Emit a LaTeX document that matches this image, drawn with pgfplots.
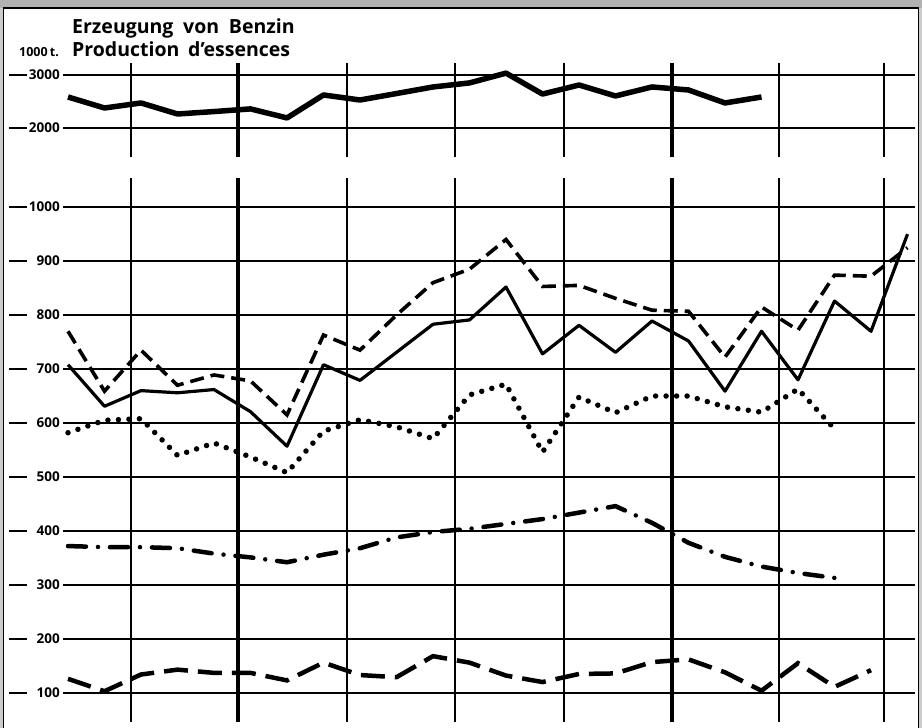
\documentclass[border=0pt]{standalone}
\usepackage{pgfplots}
\pgfplotsset{compat=1.18}
\usepackage{pgfplotstable}
\usepackage{fontspec}
\setmainfont{Open Sans}

\pgfplotstableread{
k v
0 2585
1 2377
2 2472
3 2264
4 2310
5 2360
6 2190
7 2623
8 2528
9 2650
10 2774
11 2850
12 3035
13 2640
14 2811
15 2604
16 2774
17 2717
18 2472
19 2585
}\toptable

\pgfplotstableread{
k v
0 708
1 631
2 660
3 656
4 662
5 621
6 557
7 708
8 679
9 731
10 783
11 791
12 852
13 728
14 781
15 731
16 789
17 752
18 659
19 770
20 680
21 826
22 770
23 950
}\solidtable

\pgfplotstableread{
k v
0 770
1 659
2 735
3 670
4 689
5 678
6 615
7 763
8 735
9 800
10 860
11 885
12 940
13 853
14 855
15 831
16 809
17 807
18 722
19 815
20 772
21 874
22 872
23 925
}\dashedtable

\pgfplotstableread{
k v
0 582
1 605
2 608
3 540
4 563
5 537
6 508
7 585
8 606
9 593
10 571
11 652
12 672
13 546
14 648
15 619
16 650
17 650
18 630
19 620
20 663
21 589
}\dottedtable

\pgfplotstableread{
k v
0 372
1 370
2 370
3 368
4 358
5 351
6 342
7 356
8 368
9 388
10 398
11 404
12 413
13 422
14 434
15 446
16 415
17 378
18 352
19 334
20 322
21 313
}\dashdottable

\pgfplotstableread{
k v
0 126
1 103
2 134
3 143
4 137
5 137
6 123
7 156
8 133
9 129
10 168
11 156
12 132
13 120
14 135
15 136
16 157
17 162
18 138
19 104
20 155
21 111
22 142
}\longdashtable

\pgfplotsset{
  benzin/.style={
    scale only axis,
    anchor=south west,
    width=852pt,
    xmin=-0.137, xmax=23.205,
    axis line style={draw=none},
    xtick={1.726,7.644,10.603,13.589,19.479,22.356},
    xticklabels={},
    extra x ticks={4.658,16.548},
    extra x tick labels={},
    extra x tick style={grid=major, major grid style={line width=3.6pt, black}},
    major tick length=0pt,
    grid=major,
    major grid style={line width=1.8pt, black},
    yticklabel={\makebox[51pt][l]{\rule[4pt]{18pt}{1.8pt}\hfill\pgfmathprintnumber[assume math mode=true,1000 sep={}]{\tick}}},
    yticklabel style={anchor=east, inner sep=0pt, xshift=-3pt, font=\bfseries\fontsize{13.5}{14}\selectfont},
    clip=false,
  }
}

\begin{document}
\begin{tikzpicture}[x=1pt,y=1pt]
\useasboundingbox (0,0) rectangle (922,728);
\fill[gray!60] (0,720) rectangle (922,728);
\fill[gray!40] (0,0) rectangle (3,720);
\fill[gray!40] (919,0) rectangle (922,720);
\draw[line width=1.8pt] (3.5,0) -- (3.5,720) -- (918.5,720) -- (918.5,0);

\begin{axis}[benzin, at={(63pt,6pt)}, height=544pt, ymin=46, ymax=1054,
  ytick={100,200,300,400,500,600,700,800,900,1000}]
\addplot[black, line width=3.2pt, line join=round] table[x=k,y=v]{\solidtable};
\addplot[black, line width=3.6pt, dash pattern=on 14pt off 7pt] table[x=k,y=v]{\dashedtable};
\addplot[black, line width=5.5pt, line cap=round, dash pattern=on 0pt off 10.5pt] table[x=k,y=v]{\dottedtable};
\addplot[black, line width=4.5pt, line cap=round, dash pattern=on 18pt off 12pt on 0pt off 12pt] table[x=k,y=v]{\dashdottable};
\addplot[black, line width=4.5pt, dash pattern=on 24pt off 10pt] table[x=k,y=v]{\longdashtable};
\end{axis}

\begin{axis}[benzin, at={(63pt,571pt)}, height=94pt, ymin=1453, ymax=3226,
  ytick={2000,3000}]
\addplot[black, line width=5.5pt, line join=round] table[x=k,y=v]{\toptable};
\end{axis}

\node[anchor=base west, inner sep=0pt, font=\bfseries\fontsize{19.5}{21}\selectfont] at (72,694) {Erzeugung\hspace{0.5em}von\hspace{0.5em}Benzin};
\node[anchor=base west, inner sep=0pt, font=\bfseries\fontsize{19.5}{21}\selectfont] at (72,671) {Production\hspace{0.45em}d'essences};
\node[anchor=base west, inner sep=0pt, font=\bfseries\fontsize{12.5}{13}\selectfont] at (19,671) {1000\,t.};
\end{tikzpicture}
\end{document}
